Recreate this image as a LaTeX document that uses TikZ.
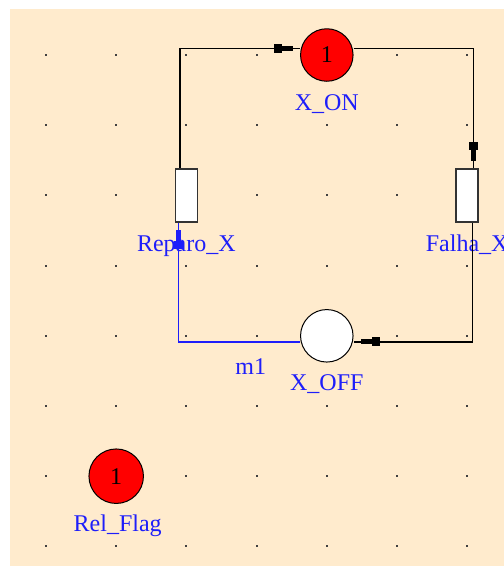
\documentclass[tikz,border=0pt]{standalone}
\usepackage{fontspec}
\setmainfont{Liberation Serif}
\usepackage{tikz}
\usetikzlibrary{arrows.meta}
\definecolor{netbg}{RGB}{255,235,205}
\definecolor{netblue}{RGB}{30,30,250}

\begin{document}
\begin{tikzpicture}[x=70.2pt, y=70.2pt,
	every node/.style={font=\fontsize{24}{28}\selectfont},
	place/.style={circle, draw=black, line width=1pt, minimum size=52.5pt, inner sep=0pt},
	trans/.style={rectangle, draw=black!80, fill=white, line width=1.5pt, minimum width=22pt, minimum height=53pt, inner sep=0pt},
	lbl/.style={text=netblue, anchor=base, inner sep=0pt},
	arc/.style={line width=1.4pt},
	>={Rectangle[length=8pt,width=9pt,line width=0pt] Rectangle[length=11pt,width=5pt,line width=0pt] Rectangle[length=7pt,width=1.4pt,line width=0pt]}]
	\useasboundingbox (-46pt,55pt) rectangle (458pt,-511pt);
	\fill[netbg] (-36pt,46pt) rectangle (458pt,-511pt);
	\foreach \i in {0,...,6}
		\foreach \j in {0,...,7}
			\fill[black!75] ([shift={(-1pt,-1pt)}]\i,-\j) rectangle ++(2pt,2pt);
	\node[place, fill=red] (xon) at (4,0) {1};
	\node[place, fill=white] (xoff) at (4,-4) {};
	\node[place, fill=red, minimum size=54.5pt] (relflag) at (1,-6) {1};
	\node[trans] (reparo) at (2,-2) {};
	\node[trans] (falha) at (6,-2) {};
	\node[lbl] (xonlbl) at ([yshift=-55.5pt]xon) {X\_ON};
	\node[lbl] (xofflbl) at ([yshift=-55pt]xoff) {X\_OFF};
	\node[lbl] (reparolbl) at ([yshift=-56pt]reparo) {Reparo\_X};
	\node[lbl] (falhalbl) at ([yshift=-56pt]falha) {Falha\_X};
	\node[lbl] (relflaglbl) at ([xshift=1.5pt, yshift=-55pt]relflag) {Rel\_Flag};
	\node[lbl] (mlbl) at ([xshift=-76pt, yshift=-39pt]xoff) {m1};
	\draw[arc, ->] ([xshift=-6.5pt]reparo.north) |- ([yshift=6.5pt]xon.west);
	\draw[arc, ->] ([yshift=6.5pt]xon.east) -| ([xshift=6pt]falha.north);
	\draw[arc, ->] ([xshift=5.5pt]falha.south) |- ([yshift=-6pt]xoff.east);
	\draw[arc, ->, draw=netblue] ([yshift=-6pt]xoff.west) -| ([xshift=-8pt]reparo.south);
\end{tikzpicture}
\end{document}
